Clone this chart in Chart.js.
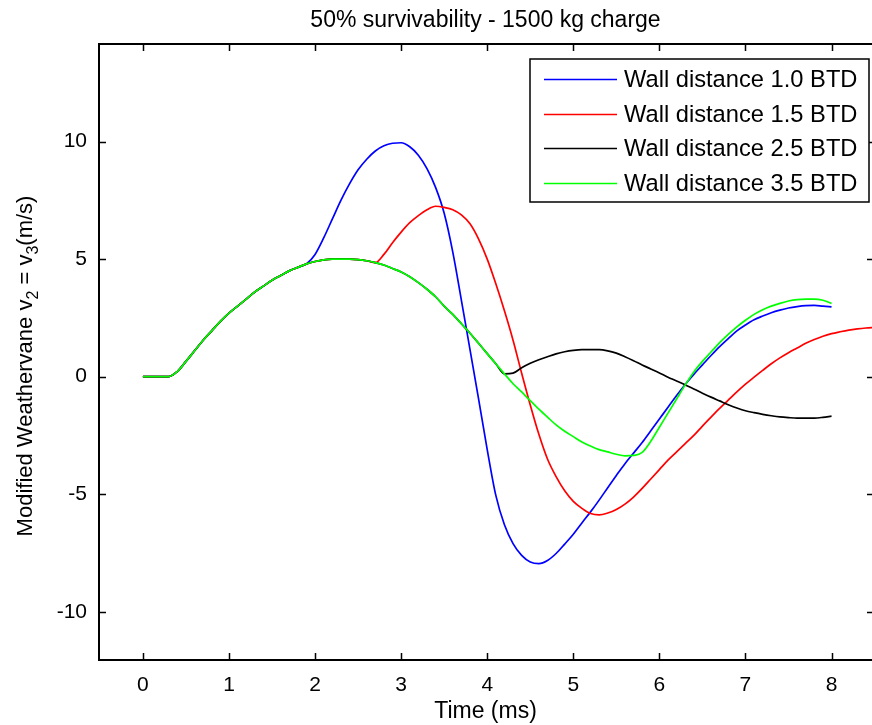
<!DOCTYPE html>
<html>
<head>
<meta charset="utf-8">
<title>50% survivability - 1500 kg charge</title>
<script src="https://cdn.jsdelivr.net/npm/chart.js@4.4.1/dist/chart.umd.min.js"></script>
<style>
    html, body { margin: 0; padding: 0; background: #ffffff; }
</style>
</head>
<body>
<canvas id="grafica" width="872" height="725"></canvas>
<script>
// Sampling step of the curves (ms)
var timeStep = 0.1;

// All four runs are identical until they branch off, t = 0.0 .. 4.2 ms
var sharedStart = [0, 0, 0, 0, 0.22, 0.65, 1.1, 1.55, 1.95, 2.35,
    2.7, 3.0, 3.3, 3.6, 3.85, 4.1, 4.3, 4.5, 4.65, 4.8,
    4.9, 4.97, 5.0, 5.0, 5.0, 4.98, 4.93, 4.85, 4.75, 4.6,
    4.45, 4.25, 4.0, 3.72, 3.4, 3.0, 2.65, 2.25, 1.85, 1.42,
    0.98, 0.55, 0.12];

// Index in the time grid where every run leaves the shared curve
var branchBlue = 20;   // t = 2.0
var branchRed = 28;    // t = 2.8
var branchBlack = 43;  // t = 4.3
var branchGreen = 43;  // t = 4.3

// Wall distance 1.0 BTD, t = 2.0 .. 8.0
var tailBlue = [5.2, 5.9, 6.7, 7.5, 8.2, 8.8, 9.25, 9.6, 9.82, 9.93,
    9.95, 9.78, 9.42, 8.85, 8.05, 6.95, 5.3, 3.25, 1.15, -0.95,
    -3.1, -5.05, -6.3, -7.1, -7.6, -7.88, -7.95, -7.82, -7.52, -7.12,
    -6.7, -6.22, -5.75, -5.25, -4.72, -4.2, -3.7, -3.25, -2.8, -2.3,
    -1.8, -1.3, -0.8, -0.33, 0.1, 0.5, 0.9, 1.28, 1.62, 1.95,
    2.2, 2.42, 2.58, 2.72, 2.83, 2.92, 2.98, 3.02, 3.03, 3.0,
    2.97];

// Wall distance 1.5 BTD, t = 2.8 .. 8.5
var tailRed = [5.2, 5.7,
    6.15, 6.55, 6.85, 7.1, 7.25, 7.2, 7.1, 6.88, 6.5, 5.85,
    5.0, 3.95, 2.8, 1.55, 0.15, -1.2, -2.45, -3.5, -4.25, -4.85,
    -5.3, -5.6, -5.82, -5.88, -5.8, -5.65, -5.42, -5.12, -4.75, -4.35,
    -3.95, -3.55, -3.2, -2.85, -2.5, -2.1, -1.72, -1.35, -1.0, -0.65,
    -0.32, -0.02, 0.27, 0.55, 0.8, 1.02, 1.22, 1.42, 1.58, 1.72,
    1.83, 1.91, 1.98, 2.03, 2.07, 2.1];

// Wall distance 2.5 BTD, t = 4.3 .. 8.0
var tailBlack = [0.15, 0.38, 0.57, 0.72, 0.85, 0.97, 1.06,
    1.12, 1.15, 1.15, 1.15, 1.1, 1.0, 0.85, 0.68, 0.5, 0.33,
    0.16, -0.02, -0.18, -0.35, -0.52, -0.7, -0.87, -1.03, -1.19, -1.33,
    -1.45, -1.53, -1.6, -1.66, -1.71, -1.74, -1.76, -1.76, -1.76, -1.73,
    -1.68];

// Wall distance 3.5 BTD, t = 4.3 .. 8.0
var tailGreen = [-0.3, -0.65, -1.02, -1.38, -1.72, -2.05, -2.32,
    -2.55, -2.78, -2.95, -3.1, -3.2, -3.3, -3.37, -3.35, -3.22, -2.75,
    -2.15, -1.55, -0.95, -0.35, 0.2, 0.65, 1.05, 1.45, 1.8, 2.12,
    2.4, 2.65, 2.85, 3.0, 3.12, 3.22, 3.28, 3.3, 3.3, 3.25,
    3.12];

var seriesLabels = ['Wall distance 1.0 BTD', 'Wall distance 1.5 BTD',
    'Wall distance 2.5 BTD', 'Wall distance 3.5 BTD'];
var seriesColors = ['#0000ff', '#ff0000', '#000000', '#00ff00'];

var xTickValues = [0, 1, 2, 3, 4, 5, 6, 7, 8];
var yTickValues = [-10, -5, 0, 5, 10];

var fontFamily = "'Liberation Sans', Arial, Helvetica, sans-serif";

// Joins the shared start with the tail of one run.
function buildSeries(branch, tail) {
    var pts = [];
    for (var i = 0; i < branch; i++) {
        pts.push({ x: Math.round(i * timeStep * 10) / 10, y: sharedStart[i] });
    }
    for (var k = 0; k < tail.length; k++) {
        pts.push({ x: Math.round((branch + k) * timeStep * 10) / 10, y: tail[k] });
    }
    return pts;
}

var seriesData = [
    buildSeries(branchBlue, tailBlue),
    buildSeries(branchRed, tailRed),
    buildSeries(branchBlack, tailBlack),
    buildSeries(branchGreen, tailGreen)
];

// MATLAB style box with inward ticks on all four sides.
// The right edge of the axes sits just past the edge of the picture.
var axesBox = {
    id: 'axesBox',
    afterDatasetsDraw: function (chart) {
        var ctx = chart.ctx;
        var a = chart.chartArea;
        var xs = chart.scales.x;
        var ys = chart.scales.y;
        var right = a.right + 2;
        var tick = 7;
        ctx.save();
        ctx.strokeStyle = '#000';
        ctx.lineWidth = 1.5;
        ctx.beginPath();
        xTickValues.forEach(function (v) {
            var px = Math.round(xs.getPixelForValue(v)) + 0.5;
            ctx.moveTo(px, a.bottom); ctx.lineTo(px, a.bottom - tick);
            ctx.moveTo(px, a.top); ctx.lineTo(px, a.top + tick);
        });
        yTickValues.forEach(function (v) {
            var py = Math.round(ys.getPixelForValue(v)) + 0.5;
            ctx.moveTo(a.left, py); ctx.lineTo(a.left + tick, py);
            ctx.moveTo(right, py); ctx.lineTo(right - tick, py);
        });
        ctx.stroke();
        ctx.lineWidth = 2;
        ctx.strokeRect(a.left, a.top, right - a.left, a.bottom - a.top);
        ctx.restore();
    }
};

// Legend box in the upper right corner of the axes
var boxLegend = {
    id: 'boxLegend',
    afterDatasetsDraw: function (chart) {
        var ctx = chart.ctx;
        var a = chart.chartArea;
        var w = 339, h = 143;
        var left = a.right - 3 - w;
        var top = a.top + 15;
        ctx.save();
        ctx.fillStyle = '#fff';
        ctx.fillRect(left, top, w, h);
        ctx.strokeStyle = '#000';
        ctx.lineWidth = 1.5;
        ctx.strokeRect(left, top, w, h);
        ctx.font = '23.7px ' + fontFamily;
        ctx.textBaseline = 'middle';
        ctx.fillStyle = '#000';
        chart.data.datasets.forEach(function (ds, i) {
            var y = Math.round(top + 20 + i * 34.6) + 0.5;
            ctx.strokeStyle = ds.borderColor;
            ctx.lineWidth = 1.5;
            ctx.beginPath();
            ctx.moveTo(left + 14, y);
            ctx.lineTo(left + 87, y);
            ctx.stroke();
            ctx.fillText(ds.label, left + 94, y + 1);
        });
        ctx.restore();
    }
};

// Rotated y label with real subscripts
var yLabel = {
    id: 'yLabel',
    afterDraw: function (chart) {
        var ctx = chart.ctx;
        var parts = [
            { t: 'Modified Weathervane v', sub: false },
            { t: '2', sub: true },
            { t: ' = v', sub: false },
            { t: '3', sub: true },
            { t: '(m/s)', sub: false }
        ];
        var mainFont = '22px ' + fontFamily;
        var subFont = '16px ' + fontFamily;
        ctx.save();
        var total = 0;
        parts.forEach(function (p) {
            ctx.font = p.sub ? subFont : mainFont;
            p.w = ctx.measureText(p.t).width;
            total += p.w;
        });
        ctx.translate(32, 366);
        ctx.rotate(-Math.PI / 2);
        ctx.fillStyle = '#000';
        ctx.textBaseline = 'alphabetic';
        var x = -total / 2;
        parts.forEach(function (p) {
            ctx.font = p.sub ? subFont : mainFont;
            ctx.fillText(p.t, x, p.sub ? 6 : 0);
            x += p.w;
        });
        ctx.restore();
    }
};

var datasets = [];
for (var i = 0; i < seriesData.length; i++) {
    datasets.push({
        label: seriesLabels[i],
        data: seriesData[i],
        borderColor: seriesColors[i],
        backgroundColor: seriesColors[i],
        borderWidth: 1.7,
        pointRadius: 0,
        fill: false,
        cubicInterpolationMode: 'monotone',
        order: seriesData.length - i
    });
}

var chart = new Chart(document.getElementById('grafica').getContext('2d'), {
    type: 'line',
    data: { datasets: datasets },
    options: {
        responsive: false,
        animation: false,
        devicePixelRatio: 1,
        layout: { padding: 0 },
        plugins: {
            legend: { display: false },
            tooltip: { enabled: false },
            title: {
                display: true,
                text: '50% survivability - 1500 kg charge',
                color: '#000',
                font: { family: fontFamily, size: 23, weight: 'normal' },
                padding: { top: 7, bottom: 9.4 },
                fullSize: false
            }
        },
        scales: {
            x: {
                type: 'linear',
                min: -0.51,
                max: 8.47,
                grid: { display: false, drawTicks: false },
                border: { display: false },
                afterBuildTicks: function (scale) {
                    scale.ticks = xTickValues.map(function (v) { return { value: v }; });
                },
                afterFit: function (scale) { scale.height = 65; },
                ticks: {
                    color: '#000',
                    font: { family: fontFamily, size: 21 },
                    padding: 13,
                    maxRotation: 0,
                    autoSkip: false
                },
                title: {
                    display: true,
                    text: 'Time (ms)',
                    color: '#000',
                    font: { family: fontFamily, size: 23 },
                    padding: { top: 0, bottom: 0 }
                }
            },
            y: {
                type: 'linear',
                min: -12.05,
                max: 14.15,
                grid: { display: false, drawTicks: false },
                border: { display: false },
                afterBuildTicks: function (scale) {
                    scale.ticks = yTickValues.map(function (v) { return { value: v }; });
                },
                afterFit: function (scale) { scale.width = 99; },
                ticks: {
                    color: '#000',
                    font: { family: fontFamily, size: 21 },
                    padding: 12,
                    autoSkip: false
                }
            }
        }
    },
    plugins: [axesBox, boxLegend, yLabel]
});
</script>
</body>
</html>
